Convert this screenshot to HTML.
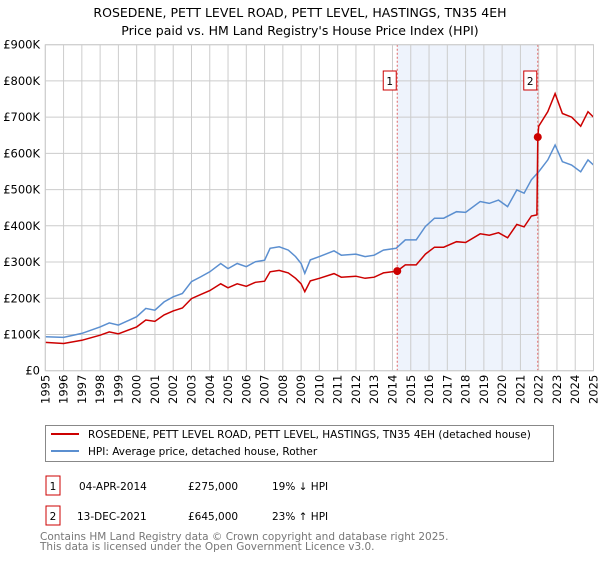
<!DOCTYPE html>
<html><head><meta charset="utf-8"><style>
body{margin:0;width:600px;height:560px;background:#fff;font-family:"DejaVu Sans","Liberation Sans",sans-serif;overflow:hidden}
svg text{font-family:"DejaVu Sans","Liberation Sans",sans-serif}
</style></head><body>
<svg id="chart" width="600" height="560" xmlns="http://www.w3.org/2000/svg">
<text x="300" y="17" text-anchor="middle" font-size="12.5" fill="#000">ROSEDENE, PETT LEVEL ROAD, PETT LEVEL, HASTINGS, TN35 4EH</text>
<text x="300" y="35" text-anchor="middle" font-size="12.5" fill="#000">Price paid vs. HM Land Registry's House Price Index (HPI)</text>
<g id="plot"></g>
<g>
<rect x="45.5" y="425.5" width="508" height="36" fill="#fff" stroke="#888"/>
<line x1="51" y1="434" x2="79" y2="434" stroke="#cc0000" stroke-width="2"/>
<text x="88" y="438" font-size="10.5">ROSEDENE, PETT LEVEL ROAD, PETT LEVEL, HASTINGS, TN35 4EH (detached house)</text>
<line x1="51" y1="451" x2="79" y2="451" stroke="#5b8fd0" stroke-width="2"/>
<text x="88" y="455" font-size="10.5">HPI: Average price, detached house, Rother</text>
</g>
<g>
<rect x="46" y="476" width="14" height="19" fill="#fff" stroke="#cc0000"/>
<text x="53" y="490" text-anchor="middle" font-size="10.5">1</text>
<text x="79" y="490" font-size="10.5">04-APR-2014</text>
<text x="188" y="490" font-size="10.5">£275,000</text>
<text x="272" y="490" font-size="10.5">19% ↓ HPI</text>
</g>
<g>
<rect x="46" y="506" width="14" height="19" fill="#fff" stroke="#cc0000"/>
<text x="53" y="520" text-anchor="middle" font-size="10.5">2</text>
<text x="77" y="520" font-size="10.5">13-DEC-2021</text>
<text x="188" y="520" font-size="10.5">£645,000</text>
<text x="272" y="520" font-size="10.5">23% ↑ HPI</text>
</g>
<text x="40" y="540" font-size="10.5" fill="#777">Contains HM Land Registry data © Crown copyright and database right 2025.</text>
<text x="40" y="550" font-size="10.5" fill="#777">This data is licensed under the Open Government Licence v3.0.</text>
</svg>
<script>
const hpiYears=[1995,1996,1997,1998,1998.5,1999,2000,2000.5,2001,2001.5,2002,2002.5,2003,2003.5,2004,2004.6,2005,2005.5,2006,2006.5,2007,2007.3,2007.8,2008.3,2008.7,2009,2009.2,2009.5,2010,2010.8,2011.2,2012,2012.5,2013,2013.5,2014.2,2014.7,2015.3,2015.8,2016.3,2016.8,2017.5,2018,2018.8,2019.3,2019.8,2020.3,2020.8,2021.2,2021.6,2022,2022.5,2022.9,2023.3,2023.8,2024.3,2024.7,2025];
const hpiValues=[94,92,103,121,132,126,149,172,167,190,204,213,246,259,273,296,282,296,287,301,305,338,342,333,315,296,269,306,315,331,319,322,315,319,333,338,361,361,398,421,421,439,437,467,462,471,453,499,490,527,549,582,623,577,568,549,582,568];
const priceYears=[1995,1996,1997,1998,1998.5,1999,2000,2000.5,2001,2001.5,2002,2002.5,2003,2003.5,2004,2004.6,2005,2005.5,2006,2006.5,2007,2007.3,2007.8,2008.3,2008.7,2009,2009.2,2009.5,2010,2010.8,2011.2,2012,2012.5,2013,2013.5,2014.25,2014.7,2015.3,2015.8,2016.3,2016.8,2017.5,2018,2018.8,2019.3,2019.8,2020.3,2020.8,2021.2,2021.6,2021.9,2021.95,2022,2022.5,2022.9,2023.3,2023.8,2024.3,2024.7,2025];
const priceValues=[78,75,84,98,107,102,121,140,136,154,165,173,199,210,221,240,229,240,233,244,247,273,277,270,255,240,218,248,255,268,258,261,255,258,270,275,292,292,322,341,341,356,354,378,374,381,367,404,397,427,430,645,675,715,765,710,700,675,715,700];
const saleYears=[2014.26,2021.95];
const saleValues=[275,645];
const saleLabels=["1","2"];
const yTicks=[0,100,200,300,400,500,600,700,800,900];
const yTickLabels=["£0","£100K","£200K","£300K","£400K","£500K","£600K","£700K","£800K","£900K"];
const xTicks=[1995,1996,1997,1998,1999,2000,2001,2002,2003,2004,2005,2006,2007,2008,2009,2010,2011,2012,2013,2014,2015,2016,2017,2018,2019,2020,2021,2022,2023,2024,2025];

const NS="http://www.w3.org/2000/svg";
const L=45.3,R=593.5,T=44.7,B=370.7;
const X=y=>L+(y-1995)/30*(R-L);
const Y=v=>B-v/900*(B-T);
const g=document.getElementById('plot');
function mk(t,a){const e=document.createElementNS(NS,t);for(const k in a)e.setAttribute(k,a[k]);g.appendChild(e);return e;}
const sh=mk('rect',{x:X(saleYears[0]),y:T,width:X(saleYears[1])-X(saleYears[0]),height:B-T,fill:'#eef3fc'});


xTicks.forEach(t=>{const l=mk('line',{x1:X(t),x2:X(t),y1:T,y2:B,stroke:'#ccc','stroke-width':1});


const tx=mk('text',{x:0,y:0,transform:`translate(${X(t)+4},${B+4}) rotate(-90)`,'text-anchor':'end','font-size':'11.5',fill:'#000'});tx.textContent=t;

});
yTicks.forEach((t,i)=>{const l=mk('line',{x1:L,x2:R,y1:Y(t),y2:Y(t),stroke:'#ccc','stroke-width':1});


const tx=mk('text',{x:40,y:Y(t)+4,'text-anchor':'end','font-size':'11.5',fill:'#000'});tx.textContent=yTickLabels[i];

});
saleYears.forEach((s,i)=>{const l=mk('line',{x1:X(s),x2:X(s),y1:T,y2:B,stroke:'#e06666','stroke-width':1,'stroke-dasharray':'2,2'});


const bx=mk('rect',{x:X(s)-14,y:71,width:13,height:19,fill:'#fff',stroke:'#cc0000'});


const tx=mk('text',{x:X(s)-7.5,y:85,'text-anchor':'middle','font-size':'10.5'});tx.textContent=saleLabels[i];

});
function path(xs,vs){return xs.map((x,i)=>(i?'L':'M')+X(x).toFixed(1)+','+Y(vs[i]).toFixed(1)).join('');}
const hp=mk('path',{d:path(hpiYears,hpiValues),fill:'none',stroke:'#5b8fd0','stroke-width':1.5});


const pp=mk('path',{d:path(priceYears,priceValues),fill:'none',stroke:'#cc0000','stroke-width':1.5});


saleYears.forEach((s,i)=>{const c=mk('circle',{cx:X(s),cy:Y(saleValues[i]),r:4,fill:'#cc0000'});

});
const fr=mk('rect',{x:L,y:T,width:R-L,height:B-T,fill:'none',stroke:'#ccc'});


</script>
</body></html>
